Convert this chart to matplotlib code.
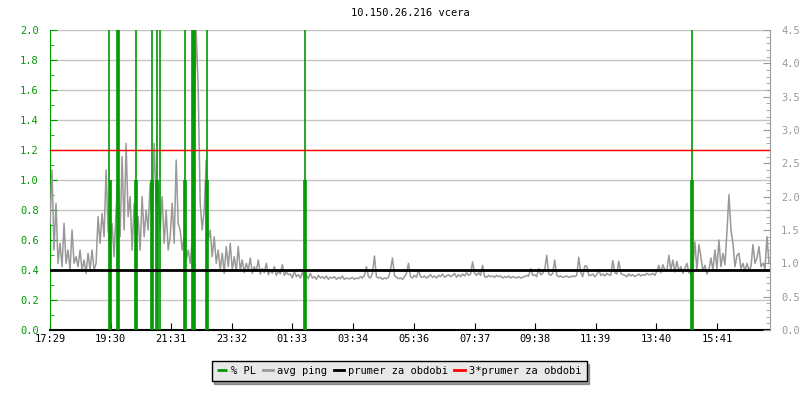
import numpy as np
import matplotlib
matplotlib.use('Agg')
import matplotlib.pyplot as plt
from matplotlib.ticker import MultipleLocator, FormatStrFormatter

plt.rcParams['font.family'] = 'DejaVu Sans Mono'
plt.rcParams['font.size'] = 7.5

# x axis: minutes since 17:29, one ping sample every 4 min
tick_pos = [0, 121, 242, 363, 484, 605, 727, 848, 969, 1090, 1211, 1332]
tick_labels = ['17:29', '19:30', '21:31', '23:32', '01:33', '03:34',
               '05:36', '07:37', '09:38', '11:39', '13:40', '15:41']

# avg ping [ms], right axis
ping_1 = [1.6, 2.4, 1.2, 1.9, 1.0, 1.3, 0.95, 1.6, 1.0, 1.2, 0.9, 1.5, 1.0, 1.1, 0.95,
          1.2, 0.9, 1.05, 0.85, 1.15, 0.9, 1.2, 0.9, 1.0, 1.7, 1.3, 1.75, 1.4, 2.4, 1.5]
ping_2 = [1.3, 1.6, 1.1, 1.8, 2.3, 1.4, 2.6, 1.5, 2.8, 1.7, 2.0, 1.2, 1.9, 1.3, 1.7,
          1.2, 2.0, 1.4, 1.8, 1.5, 2.2, 1.6, 2.8, 1.9, 2.2, 1.5, 2.0, 1.3, 1.8, 1.2]
ping_3 = [1.4, 1.9, 1.3, 2.55, 1.6, 1.5, 1.2, 1.4, 1.05, 1.2, 1.0, 1.35, 3.2, 4.5, 3.6,
          1.9, 1.5, 1.8, 2.55, 1.35, 1.5, 1.1, 1.4, 1.0, 1.2, 0.9, 1.15, 0.85, 1.25, 0.95]
ping_4 = [1.3, 0.9, 1.1, 0.88, 1.25, 0.9, 1.05, 0.86, 1.0, 0.9, 1.08, 0.85, 0.95, 0.88, 1.05,
          0.84, 0.92, 0.86, 1.0, 0.83, 0.9, 0.85, 0.95, 0.82, 0.88, 0.84, 0.98, 0.82, 0.87, 0.83]
ping_5 = [0.84, 0.78, 0.88, 0.8, 0.83, 0.78, 0.86, 0.79, 0.82, 0.77, 0.85, 0.78, 0.8, 0.76, 0.82,
          0.78, 0.8, 0.77, 0.81, 0.76, 0.79, 0.78, 0.8, 0.76, 0.79, 0.77, 0.81, 0.76, 0.78, 0.77]
ping_6 = [0.77, 0.79, 0.76, 0.78, 0.77, 0.8, 0.78, 0.82, 0.95, 0.8, 0.78, 0.85, 1.11, 0.8, 0.78,
          0.79, 0.76, 0.78, 0.77, 0.79, 0.9, 1.08, 0.82, 0.79, 0.77, 0.78, 0.76, 0.8, 0.85, 1.0]
ping_7 = [0.8, 0.78, 0.82, 0.79, 0.9, 0.8, 0.79, 0.81, 0.78, 0.8, 0.83, 0.79, 0.81, 0.78, 0.82,
          0.8, 0.84, 0.79, 0.81, 0.83, 0.8, 0.82, 0.85, 0.79, 0.83, 0.8, 0.84, 0.81, 0.86, 0.82]
ping_8 = [0.84, 1.02, 0.85, 0.82, 0.86, 0.82, 0.97, 0.8, 0.79, 0.82, 0.8, 0.81, 0.79, 0.82, 0.8,
          0.81, 0.78, 0.8, 0.79, 0.81, 0.78, 0.8, 0.79, 0.78, 0.8, 0.78, 0.79, 0.8, 0.82, 0.81]
ping_9 = [0.92, 0.82, 0.83, 0.8, 0.92, 0.83, 0.85, 0.9, 1.12, 0.84, 0.82, 0.85, 1.05, 0.82, 0.8,
          0.81, 0.79, 0.8, 0.81, 0.79, 0.8, 0.81, 0.8, 0.82, 1.09, 0.86, 0.8, 0.96, 0.96, 0.82]
ping_10 = [0.82, 0.84, 0.8, 0.83, 0.9, 0.82, 0.84, 0.81, 0.85, 0.83, 0.82, 1.04, 0.86, 0.84, 1.03,
           0.85, 0.83, 0.82, 0.8, 0.84, 0.81, 0.83, 0.8, 0.82, 0.84, 0.81, 0.83, 0.82, 0.85, 0.83]
ping_11 = [0.83, 0.85, 0.82, 0.88, 0.97, 0.86, 0.98, 0.9, 0.88, 1.12, 0.9, 1.05, 0.87, 1.03, 0.88,
           0.95, 0.85, 0.92, 1.0, 0.86, 0.84, 0.95, 1.32, 0.9, 1.28, 1.1, 0.88, 0.97, 0.84, 0.9]
ping_12 = [1.08, 0.9, 1.2, 0.92, 1.35, 0.95, 1.15, 0.98, 1.47, 2.03, 1.5, 1.3, 0.95, 1.12, 1.15,
           0.92, 1.0, 0.88, 1.0, 0.9, 0.95, 1.28, 1.0, 1.08, 1.25, 0.95, 1.0, 0.92, 1.4, 1.0]

ping = (ping_1 + ping_2 + ping_3 + ping_4 + ping_5 + ping_6 +
        ping_7 + ping_8 + ping_9 + ping_10 + ping_11 + ping_12)
ping_times = np.arange(len(ping)) * 4

# packet loss [%], left axis (values above 2 are clipped)
pl_times = [118, 120, 122, 134, 136, 138, 170, 172, 174, 202, 204, 206, 212, 214, 216, 220,
            268, 270, 272, 284, 286, 288, 290, 312, 314, 316, 508, 510, 512, 1280, 1282, 1284]
pl_values = [3, 1, 1, 3, 3, 3, 1, 3, 1, 1, 3, 1, 1, 3, 1, 3,
             1, 3, 1, 3, 3, 3, 3, 1, 3, 1, 1, 3, 1, 1, 3, 1]

avg_ping = 0.9

green = '#009a00'
gray = '#999999'

fig = plt.figure(figsize=(8, 4), dpi=100)
ax = fig.add_axes([0.0625, 0.175, 0.9, 0.75])
ax2 = ax.twinx()

# left axis: packet loss + grid
ax.set_xlim(0, 1438)
ax.set_ylim(0, 2.0)
ax.yaxis.set_major_locator(MultipleLocator(0.2))
ax.yaxis.set_minor_locator(MultipleLocator(0.1))
ax.yaxis.set_major_formatter(FormatStrFormatter('%.1f'))
ax.grid(axis='y', color='#c4c4c4', linewidth=1)
ax.set_axisbelow(True)
ax.tick_params(axis='y', which='both', direction='in', colors=green, pad=8)
ax.tick_params(axis='y', which='major', length=5)
ax.tick_params(axis='y', which='minor', length=3)
ax.set_xticks(tick_pos)
ax.set_xticklabels(tick_labels)
ax.tick_params(axis='x', direction='in', length=5, color='black', pad=3)
ax.spines['left'].set_color(green)
ax.spines['bottom'].set_linewidth(1.5)
ax.spines['top'].set_visible(False)
ax.spines['right'].set_visible(False)

# right axis: ping
ax2.set_ylim(0, 4.5)
ax2.yaxis.set_major_locator(MultipleLocator(0.5))
ax2.yaxis.set_minor_locator(MultipleLocator(0.1))
ax2.yaxis.set_major_formatter(FormatStrFormatter('%.1f'))
ax2.tick_params(axis='y', which='both', direction='in', colors=gray, pad=8)
ax2.tick_params(axis='y', which='major', length=5)
ax2.tick_params(axis='y', which='minor', length=3)
ax2.spines['right'].set_color(gray)
for s in ['left', 'top', 'bottom']:
    ax2.spines[s].set_visible(False)

l_ping, = ax2.plot(ping_times, ping, color=gray, linewidth=1.1, label='avg ping')
# PL drawn in left-axis units but on the top axes so it sits above the ping line
l_pl = ax2.vlines(pl_times, 0, pl_values, colors=green, linewidth=1.2,
                  transform=ax.transData, label='% PL')
l_avg = ax2.axhline(avg_ping, color='black', linewidth=2, label='prumer za obdobi')
l_avg3 = ax2.axhline(3 * avg_ping, color='red', linewidth=1, label='3*prumer za obdobi')

ax.set_title('10.150.26.216 vcera', fontsize=7.5, pad=10)

leg = fig.legend(handles=[l_pl, l_ping, l_avg, l_avg3], loc='center',
                 bbox_to_anchor=(0.499, 0.0725), ncol=4, frameon=True,
                 fancybox=False, shadow=True, handlelength=1.0, handletextpad=0.4,
                 columnspacing=0.6, borderpad=0.5, fontsize=7.5)
leg.get_frame().set_facecolor('#e8e8e8')
leg.get_frame().set_edgecolor('black')
leg.get_frame().set_alpha(1)
for h in leg.legend_handles:
    h.set_linewidth(2)

fig.savefig('out.png', dpi=100)
